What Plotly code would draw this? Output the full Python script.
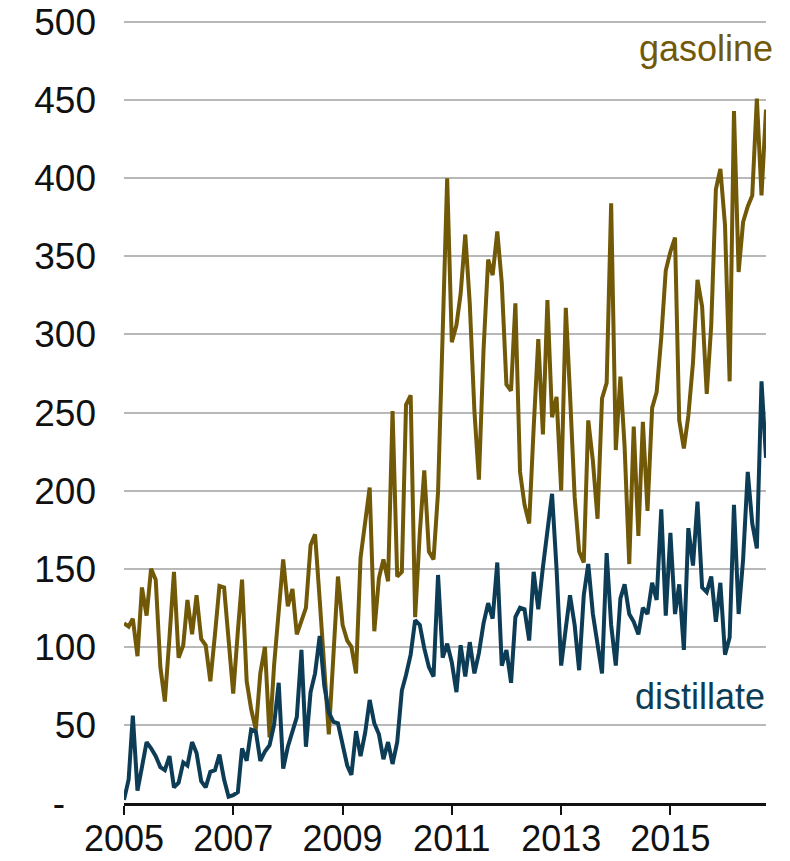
import pandas as pd
import plotly.graph_objects as go

# monthly observations, Jan 2005 - Oct 2016
months = pd.date_range("2005-01-01", "2016-10-01", freq="MS")

gasoline = [
    115, 113, 118, 94, 138, 120, 150, 143, 87, 65, 106, 148,
    93, 101, 130, 108, 133, 105, 101, 78, 108, 139, 138, 105,
    70, 110, 143, 78, 60, 47, 83, 100, 42, 88, 125, 156,
    126, 137, 108, 117, 125, 165, 172, 130, 88, 44, 95, 145,
    114, 104, 100, 83, 157, 180, 202, 110, 144, 156, 142, 251,
    145, 148, 255, 261, 119, 173, 213, 161, 156, 199, 297, 400,
    295, 306, 326, 364, 320, 251, 207, 290, 348, 338, 366, 333,
    268, 264, 320, 212, 191, 179, 240, 297, 236, 322, 247, 260,
    200, 317, 262, 196, 161, 154, 245, 219, 182, 259, 269, 384,
    226, 273, 228, 153, 241, 171, 244, 187, 253, 263, 298, 341,
    353, 362, 245, 227, 248, 282, 335, 318, 262, 306, 393, 406,
    370, 270, 443, 340, 372, 382, 389, 451, 389, 444,
]

distillate = [
    2, 15, 56, 8, 23, 39, 35, 30, 23, 21, 30, 10,
    13, 26, 24, 39, 32, 14, 10, 20, 21, 31, 15, 4,
    5, 7, 35, 27, 47, 46, 27, 33, 37, 50, 77, 22,
    36, 46, 55, 98, 36, 71, 83, 107, 75, 58, 52, 51,
    36, 24, 18, 46, 30, 45, 66, 51, 44, 28, 39, 25,
    39, 72, 82, 95, 117, 114, 99, 87, 81, 146, 93, 102,
    90, 71, 101, 81, 103, 83, 96, 115, 128, 118, 154, 88,
    98, 77, 119, 125, 124, 104, 148, 124, 151, 172, 198, 150,
    88, 112, 133, 114, 85, 133, 153, 121, 100, 83, 160, 114,
    88, 131, 140, 121, 116, 108, 125, 121, 141, 130, 188, 120,
    173, 121, 140, 98, 176, 152, 193, 138, 135, 145, 116, 141,
    95, 106, 191, 121, 156, 212, 179, 163, 270, 221,
]

y_ticks = [0, 50, 100, 150, 200, 250, 300, 350, 400, 450, 500]
y_labels = ["-\u00a0\u00a0\u00a0"] + [str(v) for v in y_ticks[1:]]
x_ticks = ["2005-01-01", "2007-01-01", "2009-01-01", "2011-01-01", "2013-01-01", "2015-01-01"]
x_labels = ["2005", "2007", "2009", "2011", "2013", "2015"]

GAS_COLOR = "#715908"
DIST_COLOR = "#0d3d56"
FONT = "Liberation Sans, Arial, sans-serif"

fig = go.Figure()

fig.add_trace(go.Scatter(
    x=months, y=gasoline, mode="lines", name="gasoline",
    line=dict(color=GAS_COLOR, width=4),
))
fig.add_trace(go.Scatter(
    x=months, y=distillate, mode="lines", name="distillate",
    line=dict(color=DIST_COLOR, width=4),
))

fig.add_annotation(
    x=1.014, y=483, xref="paper", yref="y", text="gasoline",
    showarrow=False, xanchor="right", yanchor="middle",
    font=dict(family=FONT, size=36, color=GAS_COLOR),
)
fig.add_annotation(
    x=1.002, y=68, xref="paper", yref="y", text="distillate",
    showarrow=False, xanchor="right", yanchor="middle",
    font=dict(family=FONT, size=36, color=DIST_COLOR),
)

# y range runs a touch past 500 so the top gridline is drawn; 500 sits at y=22px
fig.update_layout(
    width=790, height=861,
    margin=dict(l=124, r=24, t=18.9, b=58),
    plot_bgcolor="white", paper_bgcolor="white",
    showlegend=False,
    font=dict(family=FONT, size=35, color="#111111"),
)

fig.update_xaxes(
    range=["2005-01-01", "2016-10-01"],
    tickvals=x_ticks, ticktext=x_labels,
    showgrid=False, zeroline=False, automargin=False,
    showline=True, linecolor="#111111", linewidth=2.5,
    ticks="outside", ticklen=9, tickwidth=2, tickcolor="#111111",
    ticklabelstandoff=-7,
    tickfont=dict(family=FONT, size=36, color="#111111"),
)
fig.update_yaxes(
    range=[0, 502],
    tickvals=y_ticks, ticktext=y_labels,
    showgrid=True, gridcolor="#b8b8b8", gridwidth=1.5,
    zeroline=False, showline=False, ticks="", automargin=False,
    ticklabelstandoff=27,
    tickfont=dict(family=FONT, size=37, color="#111111"),
)

# drop the default 8px body margin so the figure fills the window exactly
fig.write_html(
    "out.html",
    config={"displayModeBar": False},
    post_script="document.body.style.margin = '0';",
)
